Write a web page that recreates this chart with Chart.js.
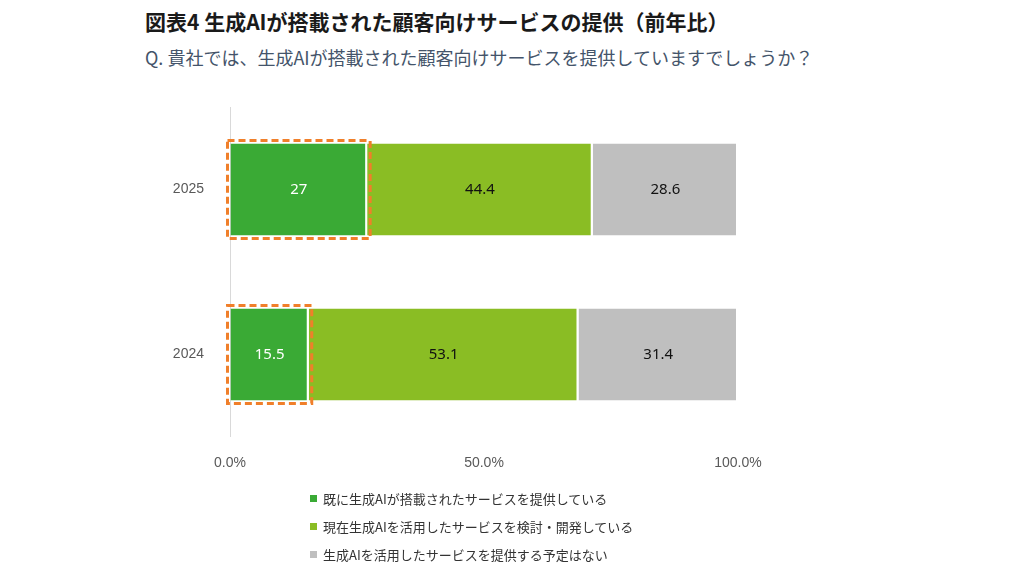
<!DOCTYPE html>
<html><head><meta charset="utf-8">
<script src="https://cdn.jsdelivr.net/npm/chart.js@4"></script>
<style>
body{margin:0;width:1024px;height:574px;background:#fff;font-family:"Noto Sans CJK JP","Noto Sans",sans-serif;position:relative;overflow:hidden}
#t{position:absolute;left:145px;top:6px;font-size:21px;font-weight:bold;color:#1a1a1a}
#s{position:absolute;left:145px;top:44px;font-size:18px;color:#44546a}
#c{position:absolute;left:0;top:0}
#lg{position:absolute;left:310px;top:485px;font-size:13px;color:#333;line-height:28px}
#lg span{display:inline-block;width:7px;height:7px;margin-right:6px;vertical-align:middle;position:relative;top:-2px}
</style></head><body>
<div id="t">図表4 生成AIが搭載された顧客向けサービスの提供（前年比）</div>
<div id="s">Q. 貴社では、生成AIが搭載された顧客向けサービスを提供していますでしょうか？</div>
<canvas id="c" width="1024" height="574"></canvas>
<div id="lg"></div>
<script>
const categories=["2025","2024"];
const seriesNames=["既に生成AIが搭載されたサービスを提供している","現在生成AIを活用したサービスを検討・開発している","生成AIを活用したサービスを提供する予定はない"];
const provided=[27,15.5];
const developing=[44.4,53.1];
const noPlan=[28.6,31.4];
const colors=["#3aaa35","#8abd24","#bfbfbf"];
const labelColors=["#ffffff","#111111","#111111"];
document.getElementById('lg').innerHTML=seriesNames.map((n,i)=>`<div><span style="background:${colors[i]}"></span>${n}</div>`).join('');
const plug={id:'p',afterDatasetsDraw(ch){
 const ctx=ch.ctx;
 ch.data.datasets.forEach((ds,di)=>{
  ch.getDatasetMeta(di).data.forEach((b,i)=>{
   ctx.save();ctx.fillStyle=labelColors[di];ctx.font='15px "Noto Sans",sans-serif';
   ctx.textAlign='center';ctx.textBaseline='middle';
   ctx.fillText(String(ds.data[i]),(b.x+b.base)/2,b.y);
   if(di===0){const h=b.height/2;ctx.strokeStyle='#f07f2a';ctx.lineWidth=3;ctx.setLineDash([7,4]);
    ctx.strokeRect(b.base-3,b.y-h-3,b.x-b.base+6,2*h+6);}
   ctx.restore();
  });
 });
}};
new Chart(document.getElementById('c'),{type:'bar',
 data:{labels:categories,datasets:[provided,developing,noPlan].map((d,i)=>({label:seriesNames[i],data:d,backgroundColor:colors[i],borderColor:'#fff',borderWidth:{right:2},borderSkipped:false,categoryPercentage:1,barPercentage:0.557}))},
 options:{indexAxis:'y',responsive:false,animation:false,
  layout:{padding:{left:0,right:286,top:107,bottom:0}},
  plugins:{legend:{display:false},tooltip:{enabled:false}},
  scales:{
   x:{stacked:true,min:0,max:100,ticks:{stepSize:50,callback:v=>v.toFixed(1)+'%',color:'#595959',font:{size:14},padding:18},
      grid:{color:c=>c.index===0?'#d9d9d9':'rgba(0,0,0,0)',drawTicks:false},border:{display:false},
      afterFit:s=>{s.height=137;}},
   y:{stacked:true,ticks:{color:'#595959',font:{size:14},padding:18},grid:{display:false},border:{display:false},
      afterFit:s=>{s.width=230;}}
  }},
 plugins:[plug]});
</script></body></html>
